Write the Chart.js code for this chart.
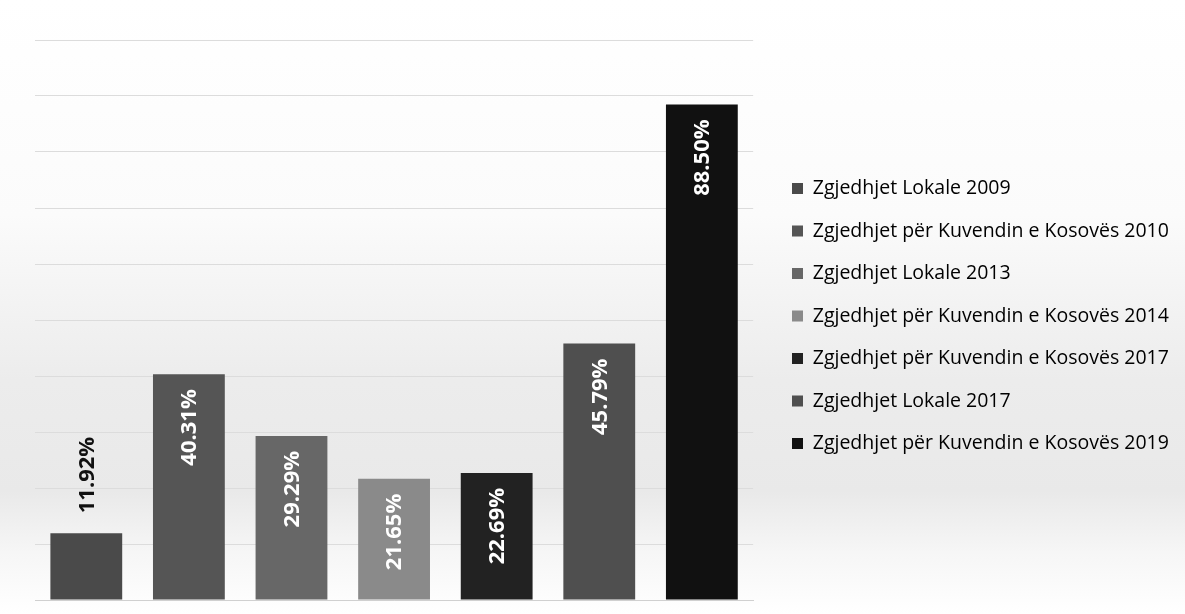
<!DOCTYPE html>
<html>
<head>
<meta charset="utf-8">
<script src="https://cdn.jsdelivr.net/npm/chart.js@4/dist/chart.umd.min.js"></script>
<style>
  html, body { margin: 0; padding: 0; }
  body {
    width: 1185px; height: 614px; overflow: hidden;
    background: linear-gradient(to bottom, #ffffff 0%, #fbfbfb 35%, #ececec 62%, #e9e9e9 80%, #f6f6f6 90%, #ffffff 100%);
  }
  #wrap { position: relative; width: 1185px; height: 614px; }
</style>
</head>
<body>
<div id="wrap"><canvas id="turnoutChart"></canvas></div>
<script>
// Elections shown as separate bars, one colour each
const electionLabels = [
  'Zgjedhjet Lokale 2009',
  'Zgjedhjet për Kuvendin e Kosovës 2010',
  'Zgjedhjet Lokale 2013',
  'Zgjedhjet për Kuvendin e Kosovës 2014',
  'Zgjedhjet për Kuvendin e Kosovës 2017',
  'Zgjedhjet Lokale 2017',
  'Zgjedhjet për Kuvendin e Kosovës 2019'
];
const percentValues = [11.92, 40.31, 29.29, 21.65, 22.69, 45.79, 88.50];
const barColors = ['#4a4a4a', '#555555', '#676767', '#8a8a8a', '#222222', '#4f4f4f', '#111111'];
const yTicks = [0, 10, 20, 30, 40, 50, 60, 70, 80, 90, 100];

const LEGEND_X = 769;   // left edge of the legend box
const LEGEND_SHIFT_Y = -8;

// rotated value labels, inside the bar top (above it when the bar is short)
const barValueLabels = {
  id: 'barValueLabels',
  afterDatasetsDraw(chart) {
    const ctx = chart.ctx;
    const meta = chart.getDatasetMeta(0);
    ctx.save();
    ctx.font = 'bold 22px "Open Sans", sans-serif';
    ctx.textBaseline = 'middle';
    meta.data.forEach((bar, i) => {
      const text = percentValues[i].toFixed(2) + '%';
      const w = ctx.measureText(text).width;
      const h = bar.base - bar.y;
      ctx.save();
      ctx.translate(bar.x + 1, bar.y);
      ctx.rotate(-Math.PI / 2);
      if (h > w + 30) {
        ctx.fillStyle = '#ffffff';
        ctx.textAlign = 'right';
        ctx.fillText(text, -15, 0);
      } else {
        ctx.fillStyle = '#111111';
        ctx.textAlign = 'left';
        ctx.fillText(text, 20, 0);
      }
      ctx.restore();
    });
    ctx.restore();
  }
};

// move the legend block a bit, like in the original layout
const legendNudge = {
  id: 'legendNudge',
  afterLayout(chart) {
    const lg = chart.legend;
    const dx = LEGEND_X - lg.left;
    lg.left += dx; lg.right += dx;
    lg.top += LEGEND_SHIFT_Y; lg.bottom += LEGEND_SHIFT_Y;
  }
};

new Chart(document.getElementById('turnoutChart'), {
  type: 'bar',
  data: {
    labels: electionLabels,
    datasets: [{
      label: 'Pjesëmarrja',
      data: percentValues,
      backgroundColor: barColors,
      borderWidth: 0,
      categoryPercentage: 1,
      barPercentage: 0.70
    }]
  },
  options: {
    responsive: true,
    maintainAspectRatio: false,
    animation: false,
    layout: { padding: { left: 35, right: 22, top: 40, bottom: 6 } },
    plugins: {
      tooltip: { enabled: false },
      legend: {
        display: true,
        position: 'right',
        align: 'center',
        maxWidth: 700,
        labels: {
          boxWidth: 11,
          boxHeight: 11,
          padding: 23,
          color: '#2a2a2a',
          font: { family: '"Open Sans", sans-serif', size: 19.5 },
          generateLabels: function(chart) {
            return chart.data.labels.map((lbl, i) => ({
              text: lbl,
              fillStyle: barColors[i],
              strokeStyle: barColors[i],
              lineWidth: 0,
              index: i
            }));
          }
        }
      }
    },
    scales: {
      x: {
        ticks: { display: false },
        grid: { display: false },
        border: { display: true, color: '#d0d0d0', width: 1 }
      },
      y: {
        min: 0,
        max: 100,
        afterBuildTicks: function(axis) {
          axis.ticks = yTicks.map(v => ({ value: v }));
        },
        ticks: { display: false },
        grid: { color: '#dcdcdc', drawTicks: false },
        border: { display: false }
      }
    }
  },
  plugins: [barValueLabels, legendNudge]
});
</script>
</body>
</html>
